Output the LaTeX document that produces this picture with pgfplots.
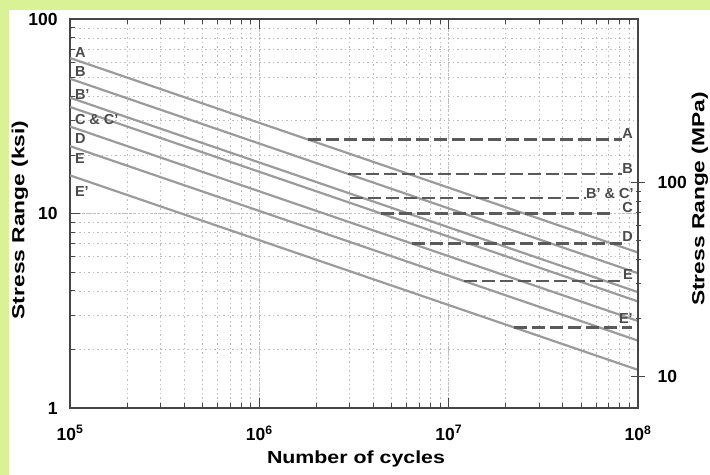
\documentclass[border=0pt]{standalone}
\usepackage{pgfplots}
\pgfplotsset{compat=1.18}
\usepackage{fontspec}
\setmainfont{Liberation Sans}
\usepackage{graphicx}
\definecolor{bggreen}{RGB}{218,242,150}
\definecolor{snline}{RGB}{155,155,155}
\definecolor{cafline}{RGB}{90,90,90}
\definecolor{lblgray}{RGB}{75,75,75}
\definecolor{gridgray}{RGB}{190,190,190}
\definecolor{framegray}{RGB}{70,70,70}
\newcommand{\ttlfont}{\fontsize{17.5bp}{20bp}\selectfont\bfseries}
\newcommand{\tckfont}{\fontsize{17.5bp}{20bp}\selectfont\bfseries}
\newcommand{\catfont}{\fontsize{14.5bp}{16bp}\selectfont\bfseries}
\begin{document}
\begin{tikzpicture}[x=1bp,y=1bp]
\useasboundingbox (0,0) rectangle (710,475);
\fill[bggreen] (0,0) rectangle (710,475);
\fill[white] (9,0) rectangle (710,465);
\begin{axis}[
  at={(70bp,67bp)}, anchor=south west, scale only axis,
  width=568bp, height=389bp,
  xmode=log, ymode=log, xmin=1e5, xmax=1e8, ymin=1, ymax=100,
  xtick={1e5,1e6,1e7,1e8},
  xticklabels={10\textsuperscript{5},10\textsuperscript{6},10\textsuperscript{7},10\textsuperscript{8}},
  ytick={1,10,100}, yticklabels={1,10,100},
  ytick pos=left, xtick pos=both,
  /pgf/number format/assume math mode=true,
  tick label style={font=\tckfont},
  xticklabel style={yshift=-14bp},
  yticklabel style={xshift=-9bp},
  major tick length=10bp, minor tick length=5bp,
  tick align=inside,
  major tick style={framegray, line width=1bp},
  minor tick style={framegray, line width=0.8bp},
  axis line style={framegray, line width=1.5bp},
  grid=both,
  major grid style={gridgray, line width=0.6bp, dash pattern=on 2bp off 2bp},
  minor grid style={gridgray, line width=0.5bp, dash pattern=on 1.5bp off 3bp},
  clip=true,
]
% S-N curves (N = A / S^3), straight lines in log-log
\addplot[snline, line width=2.2bp] coordinates {(1e5,63.0) (1e8,6.30)};
\addplot[snline, line width=2.2bp] coordinates {(1e5,49.3) (1e8,4.93)};
\addplot[snline, line width=2.2bp] coordinates {(1e5,39.4) (1e8,3.94)};
\addplot[snline, line width=2.2bp] coordinates {(1e5,35.3) (1e8,3.53)};
\addplot[snline, line width=2.2bp] coordinates {(1e5,28.0) (1e8,2.80)};
\addplot[snline, line width=2.2bp] coordinates {(1e5,22.2) (1e8,2.22)};
\addplot[snline, line width=2.2bp] coordinates {(1e5,15.7) (1e8,1.57)};
% constant amplitude fatigue thresholds
\addplot[cafline, line width=2.5bp, dash pattern=on 13bp off 5bp] coordinates {(1.81e6,24) (8.2e7,24)};
\addplot[cafline, line width=2.5bp, dash pattern=on 13bp off 5bp] coordinates {(2.93e6,16) (8.2e7,16)};
\addplot[cafline, line width=2.5bp, dash pattern=on 13bp off 5bp] coordinates {(3.0e6,12) (5.3e7,12)};
\addplot[cafline, line width=2.5bp, dash pattern=on 13bp off 5bp] coordinates {(4.4e6,10) (7.4e7,10)};
\addplot[cafline, line width=2.5bp, dash pattern=on 13bp off 5bp] coordinates {(6.41e6,7) (8.2e7,7)};
\addplot[cafline, line width=2.5bp, dash pattern=on 13bp off 5bp] coordinates {(1.21e7,4.5) (8.0e7,4.5)};
\addplot[cafline, line width=2.5bp, dash pattern=on 13bp off 5bp] coordinates {(2.22e7,2.6) (9.3e7,2.6)};
% left labels
\node[anchor=west, inner sep=0pt, font=\catfont, text=lblgray] at (axis cs:1.06e5,67.6) {A};
\node[anchor=west, inner sep=0pt, font=\catfont, text=lblgray] at (axis cs:1.06e5,53.4) {B};
\node[anchor=west, inner sep=0pt, font=\catfont, text=lblgray] at (axis cs:1.06e5,40.7) {B'};
\node[anchor=west, inner sep=0pt, font=\catfont, text=lblgray] at (axis cs:1.06e5,30.3) {C \& C'};
\node[anchor=west, inner sep=0pt, font=\catfont, text=lblgray] at (axis cs:1.06e5,24.2) {D};
\node[anchor=west, inner sep=0pt, font=\catfont, text=lblgray] at (axis cs:1.06e5,19.1) {E};
\node[anchor=west, inner sep=0pt, font=\catfont, text=lblgray] at (axis cs:1.06e5,12.9) {E'};
% right labels
\node[anchor=east, inner sep=0pt, font=\catfont, text=lblgray] at (axis cs:9.4e7,25.9) {A};
\node[anchor=east, inner sep=0pt, font=\catfont, text=lblgray] at (axis cs:9.4e7,17.1) {B};
\node[anchor=east, inner sep=0pt, font=\catfont, text=lblgray] at (axis cs:9.5e7,12.6) {B' \& C'};
\node[anchor=east, inner sep=0pt, font=\catfont, text=lblgray] at (axis cs:9.4e7,10.7) {C};
\node[anchor=east, inner sep=0pt, font=\catfont, text=lblgray] at (axis cs:9.4e7,7.57) {D};
\node[anchor=east, inner sep=0pt, font=\catfont, text=lblgray] at (axis cs:9.4e7,4.83) {E};
\node[anchor=east, inner sep=0pt, font=\catfont, text=lblgray] at (axis cs:9.4e7,2.90) {E'};
\end{axis}
\begin{axis}[
  at={(70bp,67bp)}, anchor=south west, scale only axis,
  width=568bp, height=389bp,
  xmode=log, xmin=1e5, xmax=1e8,
  ymode=log, ymin=6.8948, ymax=689.48,
  axis x line=none, axis y line*=right,
  ytick={10,100}, yticklabels={10,100},
  /pgf/number format/assume math mode=true,
  tick label style={font=\tckfont},
  yticklabel style={xshift=9bp},
  major tick length=14bp, minor tick length=5bp,
  tick align=center,
  major tick style={framegray, line width=1bp},
  minor tick style={framegray, line width=0.8bp},
  axis line style={framegray, line width=1.5bp},
]
\addplot[draw=none] coordinates {(1e6,10) (1e7,100)};
\end{axis}
\node[rotate=90, inner sep=0pt, font=\ttlfont] at (20,255) {\scalebox{1.3}[1]{Stress Range (ksi)}};
\node[rotate=90, inner sep=0pt, font=\ttlfont] at (700,276) {\scalebox{1.3}[1]{Stress Range (MPa)}};
\node[inner sep=0pt, font=\ttlfont] at (356,16) {\scalebox{1.22}[1]{Number of cycles}};
\end{tikzpicture}
\end{document}
